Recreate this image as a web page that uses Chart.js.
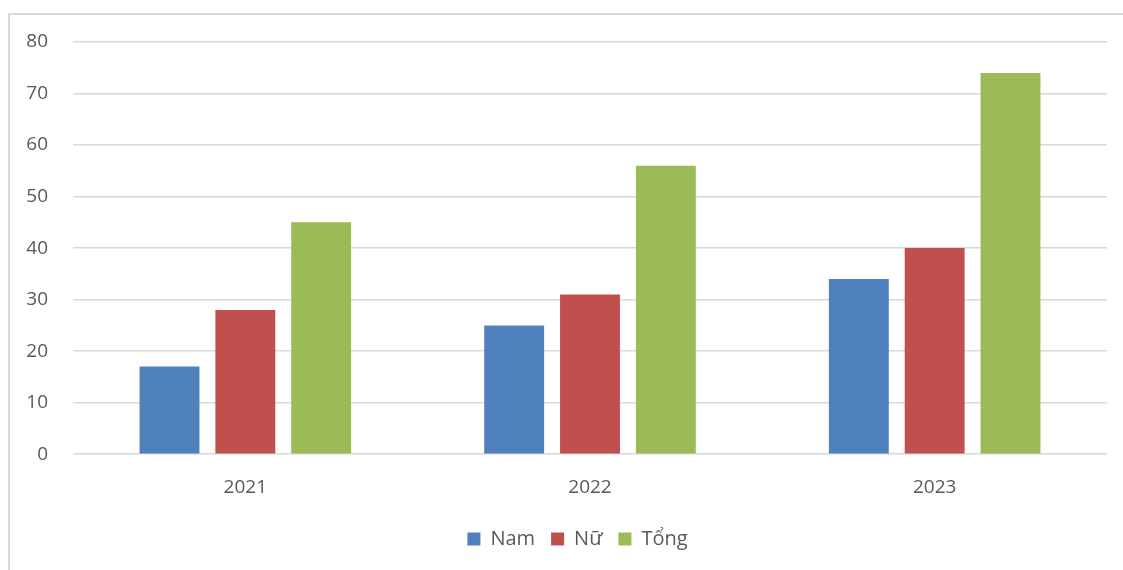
<!DOCTYPE html>
<html>
<head>
<meta charset="utf-8">
<script src="https://cdn.jsdelivr.net/npm/chart.js@4"></script>
<style>
  html, body { margin: 0; padding: 0; background: #fff; }
  #wrap { position: relative; width: 1123px; height: 570px; overflow: hidden; }
  #frame {
    position: absolute; left: 8px; top: 13px; width: 1200px; height: 600px;
    border-left: 2px solid #d9d9d9; border-top: 2px solid #d9d9d9;
    pointer-events: none;
  }
</style>
</head>
<body>
<div id="wrap">
  <canvas id="chartCanvas" width="1123" height="570"></canvas>
  <div id="frame"></div>
</div>
<script>
// data
const years = ["2021", "2022", "2023"];
const nam = [17, 25, 34];
const nu = [28, 31, 40];
const tong = [45, 56, 74];
const yTicks = [0, 10, 20, 30, 40, 50, 60, 70, 80];

const FONT = "'Open Sans', 'Liberation Sans', sans-serif";
const TEXT = "#595959";

// the legend sits centred under the plot area, not the canvas
const legendShift = {
  id: "legendShift",
  afterLayout(chart) {
    chart.legend.left += 12;
    chart.legend.right += 12;
  }
};

const ctx = document.getElementById("chartCanvas").getContext("2d");
const chart = new Chart(ctx, {
  type: "bar",
  data: {
    labels: years,
    datasets: [
      { label: "Nam", data: nam, backgroundColor: "#4F81BD" },
      { label: "Nữ", data: nu, backgroundColor: "#C0504D" },
      { label: "Tổng", data: tong, backgroundColor: "#9BBB59" }
    ]
  },
  plugins: [legendShift],
  options: {
    responsive: false,
    animation: false,
    barPercentage: 0.79,
    categoryPercentage: 0.66,
    layout: { padding: { top: 42, right: 16, left: 24, bottom: 11 } },
    scales: {
      x: {
        grid: { display: false },
        border: { display: false },
        ticks: { color: TEXT, font: { family: FONT, size: 19 }, padding: 14 }
      },
      y: {
        min: 0,
        max: 80,
        afterBuildTicks: s => { s.ticks = yTicks.map(v => ({ value: v })); },
        afterFit: s => { s.width = 49; },
        grid: { color: "#d9d9d9", lineWidth: 1.5, drawTicks: false },
        border: { display: false },
        ticks: { color: TEXT, font: { family: FONT, size: 19 }, padding: 25 }
      }
    },
    plugins: {
      tooltip: { enabled: false },
      legend: {
        position: "bottom",
        labels: {
          color: TEXT,
          font: { family: FONT, size: 20 },
          boxWidth: 13,
          boxHeight: 13,
          padding: 16
        }
      }
    }
  }
});
</script>
</body>
</html>
